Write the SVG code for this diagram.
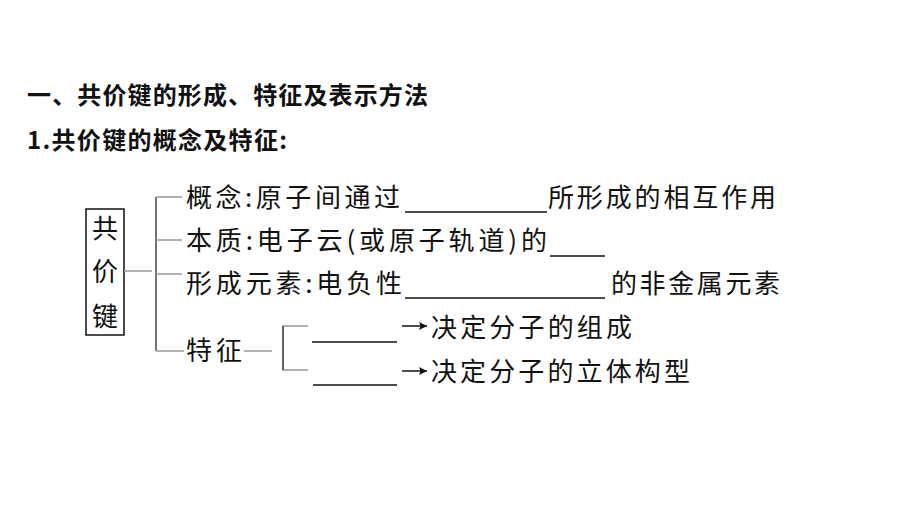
<svg xmlns="http://www.w3.org/2000/svg" width="920" height="518" viewBox="0 0 920 518">
<defs>
<style>
.t{font-family:"Noto Sans CJK SC","Noto Sans",sans-serif;font-size:26px;fill:#111;}
.h{font-family:"Noto Sans CJK SC","Noto Sans",sans-serif;font-size:24px;font-weight:bold;fill:#111;}
.br{stroke:#999;stroke-width:1.5;fill:none;}
.vb{stroke:#444;stroke-width:1.5;fill:none;}
.ul{stroke:#111;stroke-width:1.6;fill:none;}
.ar{stroke:#111;stroke-width:1.5;fill:none;}
</style>
<marker id="ah" viewBox="0 0 10 10" refX="10" refY="5" markerWidth="11" markerHeight="8" markerUnits="userSpaceOnUse" orient="auto">
<path d="M0,0 L10,5 L0,10 L2,5 Z" fill="#111"/>
</marker>
</defs>
<rect width="920" height="518" fill="#fff"/>
<g id="title">
<text class="h" x="27" y="104" textLength="401" lengthAdjust="spacing">一、共价键的形成、特征及表示方法</text>
<text class="h" x="27" y="149" textLength="260" lengthAdjust="spacing">1.共价键的概念及特征:</text>
</g>
<g id="root">
<rect x="86" y="209" width="38" height="126" fill="none" stroke="#111" stroke-width="1.5"/>
<text class="t" x="105" y="238" text-anchor="middle">共</text>
<text class="t" x="105" y="281" text-anchor="middle">价</text>
<text class="t" x="105" y="326" text-anchor="middle">键</text>
</g>
<g id="connectors">
<line class="br" x1="124" y1="271" x2="152" y2="271"/>
<line class="vb" x1="156" y1="197" x2="156" y2="351"/>
<line class="br" x1="156" y1="197" x2="182" y2="197"/>
<line class="br" x1="156" y1="240" x2="182" y2="240"/>
<line class="br" x1="156" y1="274" x2="182" y2="274"/>
<line class="br" x1="156" y1="351" x2="184" y2="351"/>
<line class="br" x1="244" y1="351" x2="272" y2="351"/>
<polyline class="br" points="308,326 283,326 283,370 308,370"/>
<line class="vb" x1="283" y1="326" x2="283" y2="370"/>
<line class="ar" x1="402" y1="326" x2="427" y2="326" marker-end="url(#ah)"/>
<line class="ar" x1="402" y1="371" x2="427" y2="371" marker-end="url(#ah)"/>
</g>
<g id="concept">
<text class="t" x="186" y="207" textLength="214" lengthAdjust="spacing">概念:原子间通过</text>
<line class="ul" x1="405" y1="212" x2="547" y2="212"/>
<text class="t" x="548" y="207" textLength="228" lengthAdjust="spacing">所形成的相互作用</text>
</g>
<g id="essence">
<text class="t" x="186" y="250" textLength="361" lengthAdjust="spacing">本质:电子云(或原子轨道)的</text>
<line class="ul" x1="550" y1="256" x2="605" y2="256"/>
</g>
<g id="elements">
<text class="t" x="186" y="293" textLength="216" lengthAdjust="spacing">形成元素:电负性</text>
<line class="ul" x1="405" y1="298" x2="605" y2="298"/>
<text class="t" x="611" y="293" textLength="169" lengthAdjust="spacing">的非金属元素</text>
</g>
<g id="features">
<text class="t" x="186" y="360" textLength="56" lengthAdjust="spacing">特征</text>
</g>
<g id="feature1">
<line class="ul" x1="312" y1="342" x2="397" y2="342"/>
<text class="t" x="431" y="337" textLength="201" lengthAdjust="spacing">决定分子的组成</text>
</g>
<g id="feature2">
<line class="ul" x1="313" y1="385" x2="397" y2="385"/>
<text class="t" x="431" y="381" textLength="259" lengthAdjust="spacing">决定分子的立体构型</text>
</g>
</svg>
